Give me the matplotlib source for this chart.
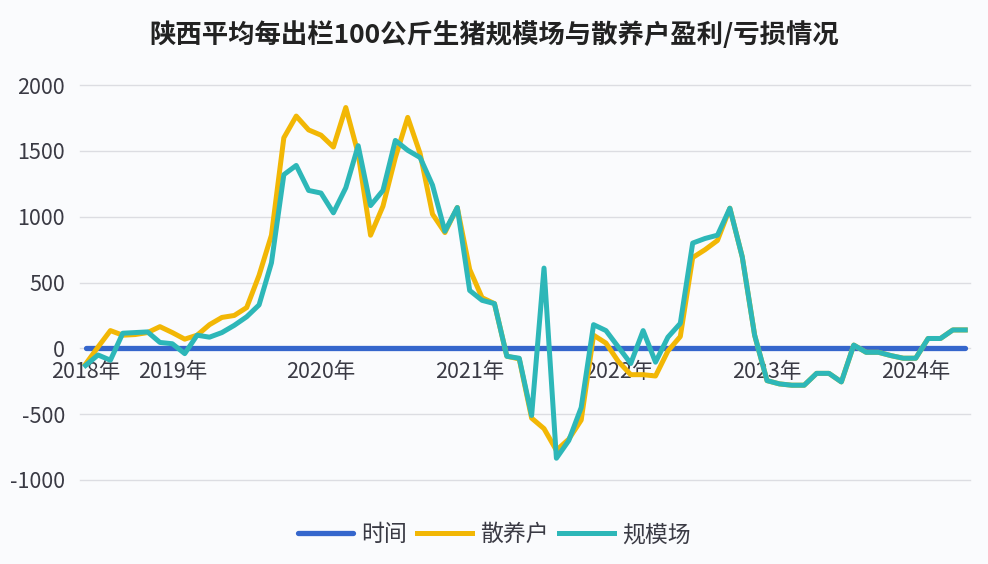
import numpy as np
import matplotlib
matplotlib.use("Agg")
from matplotlib import pyplot as plt

plt.rcParams['font.family'] = ['Noto Sans CJK SC', 'DejaVu Sans']
plt.rcParams['axes.unicode_minus'] = False

# monthly, 2018-06 .. 2024-05
years = ['2018年', '2019年', '2020年', '2021年', '2022年', '2023年', '2024年']
year_idx = [0, 7, 19, 31, 43, 55, 67]

guimo = [-130, -50, -90, 115, 120, 125, 45, 35, -40, 100, 85, 120,
         175, 240, 330, 650, 1320, 1390, 1200, 1180, 1030, 1220, 1540, 1085,
         1200, 1580, 1505, 1450, 1240, 890, 1070, 440, 365, 340, -60, -75,
         -510, 610, -835, -700, -450, 180, 135, 10, -115, 135, -105, 85,
         190, 800, 835, 860, 1065, 695, 100, -245, -270, -280, -280, -190,
         -190, -255, 25, -30, -30, -55, -75, -75, 75, 75, 140, 140]

sanyang = [-120, 10, 135, 100, 105, 120, 165, 120, 70, 100, 180, 235,
           250, 310, 555, 860, 1600, 1765, 1660, 1620, 1530, 1830, 1480, 860,
           1080, 1450, 1755, 1480, 1020, 880, 1070, 600, 385, 340, -60, -80,
           -530, -610, -775, -690, -545, 100, 40, -100, -200, -200, -210, -20,
           90, 690, 750, 820, 1065, 695, 100, -245, -270, -280, -280, -190,
           -190, -255, 25, -30, -30, -55, -75, -75, 75, 75, 140, 140]

shijian = [0] * len(guimo)

x = np.arange(len(guimo))

fig = plt.figure(figsize=(9.88, 5.64), dpi=100, facecolor='#fafbfd')
ax = fig.add_axes([0.081, 0.149, 0.901, 0.70])
ax.set_facecolor('#fafbfd')

ax.plot(x, shijian, color='#3566cc', lw=3.8, solid_capstyle='round', label='时间', zorder=3)
ax.plot(x, sanyang, color='#f2b705', lw=3.6, label='散养户', zorder=4)
ax.plot(x, guimo, color='#2db7b8', lw=3.6, label='规模场', zorder=5)

ax.set_ylim(-1000, 2000)
ax.set_yticks(np.arange(-1000, 2001, 500))
ax.set_xlim(-0.45, 71.4)
ax.grid(axis='y', color='#dcdde2', lw=1)
ax.set_axisbelow(True)
for gl in ax.get_ygridlines():
    gl.set_clip_on(False)

for s in ['top', 'right', 'left']:
    ax.spines[s].set_visible(False)
ax.spines['bottom'].set_position(('data', 0))
ax.spines['bottom'].set_visible(False)

ax.set_xticks(year_idx)
ax.set_xticklabels(years)
ax.tick_params(axis='both', length=0, labelsize=15.5, colors='#3a3a44')
ax.tick_params(axis='x', pad=9)
ax.tick_params(axis='y', pad=11)

fig.suptitle('陕西平均每出栏100公斤生猪规模场与散养户盈利/亏损情况',
             fontsize=19, fontweight='bold', color='#222222', y=0.962)

fig.legend(loc='lower center', bbox_to_anchor=(0.5, -0.005), ncol=3, frameon=False,
           fontsize=16.5, handlelength=2.4, handletextpad=0.35, columnspacing=0.45,
           labelcolor='#3a3a44')

fig.savefig('out.png', dpi=100, facecolor=fig.get_facecolor())
